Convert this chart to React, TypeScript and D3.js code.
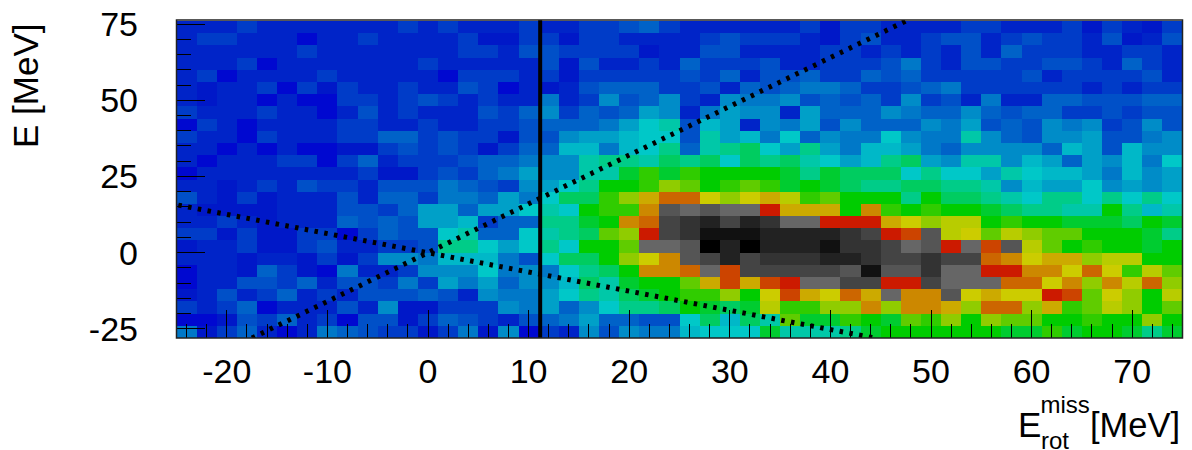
import React from "react";
import { scaleLinear, line, range } from "d3";

const width = 1192;
const height = 450;

// bins: 2 MeV wide in x, 4 MeV tall in E, rows listed top to bottom
const xEdgeStart = -25;
const yEdgeTop = 76;
const binLevels: number[][] = [
  [2,2,2,3,2,2,2,2,2,2,2,3,2,3,2,2,2,3,2,2,3,3,4,5,3,2,2,2,2,2,2,3,1,3,3,2,2,2,2,3,3,2,2,2,3,1,3,2,1,3],
  [2,3,3,2,2,2,0,2,2,3,2,2,2,2,3,1,1,3,3,1,3,3,2,2,2,2,3,4,3,3,3,2,1,3,4,2,2,3,4,4,2,3,4,3,3,2,4,1,2,4],
  [2,2,2,2,2,2,3,2,2,2,2,2,2,2,3,3,2,4,4,3,3,3,3,1,2,2,4,4,2,2,2,2,3,3,2,3,2,3,2,4,2,5,3,3,3,2,2,3,3,2],
  [2,2,2,3,0,2,2,2,2,2,2,2,3,2,2,2,2,2,4,1,4,2,2,3,2,5,3,3,3,4,2,2,3,3,3,4,6,3,2,4,4,3,3,4,4,3,2,5,3,2],
  [2,3,0,2,2,2,2,3,2,2,2,2,2,0,3,3,3,2,3,1,3,3,3,3,3,4,3,5,2,4,4,5,3,3,5,4,5,3,3,3,3,3,4,2,3,3,3,3,4,2],
  [2,1,2,2,3,0,3,1,3,2,2,3,2,2,4,3,0,2,1,2,4,5,5,5,3,3,4,2,5,4,5,6,6,5,3,3,4,5,6,3,3,3,3,3,3,2,3,2,3,3],
  [2,1,2,2,0,2,0,0,3,3,2,3,4,3,2,3,2,2,6,2,3,7,4,5,7,3,2,7,6,6,7,4,5,4,5,3,7,3,4,2,6,2,2,5,5,4,4,4,5,5],
  [3,2,2,2,3,2,2,0,2,4,2,3,2,2,2,4,3,5,7,3,5,4,5,8,7,2,6,8,7,7,2,8,5,5,5,7,6,5,5,7,5,4,5,5,3,3,4,3,4,4],
  [0,3,2,0,2,2,2,2,3,3,2,2,3,2,2,3,3,4,5,5,5,6,8,10,11,4,9,8,2,7,6,8,4,7,5,5,5,7,6,8,4,5,4,7,6,7,3,4,7,4],
  [3,2,2,0,3,2,2,2,3,3,5,5,3,4,3,3,1,4,4,7,8,8,9,10,10,4,11,8,9,6,10,5,7,6,6,10,7,6,6,11,7,5,4,7,7,8,4,4,6,7],
  [2,2,0,2,0,2,0,0,1,1,3,4,3,4,3,1,3,5,5,9,9,6,9,10,12,5,11,12,13,10,8,12,8,6,9,9,8,6,5,7,7,7,7,5,9,8,4,9,7,7],
  [2,0,2,2,2,3,3,0,3,5,2,3,3,3,4,5,5,6,7,7,11,12,12,11,13,12,13,10,13,12,13,11,10,8,9,12,13,8,7,11,11,7,9,8,5,8,7,9,6,10],
  [0,2,2,2,2,2,2,2,2,3,1,1,3,4,3,5,6,8,7,7,11,11,14,16,14,16,15,15,15,15,14,12,14,13,13,13,10,12,10,10,8,11,10,9,9,8,6,9,7,8],
  [2,2,1,2,3,2,4,3,3,2,4,4,4,6,5,4,3,7,8,10,12,15,15,16,18,17,15,16,17,16,14,15,14,13,12,12,13,13,12,12,11,7,9,8,8,10,7,8,7,8],
  [4,2,1,3,1,2,2,2,4,2,5,5,3,6,6,5,8,6,10,13,13,16,18,21,23,23,20,18,20,21,19,16,17,15,15,15,12,15,13,13,12,11,10,12,12,10,12,10,12,10],
  [2,1,1,1,1,2,2,2,4,4,3,5,8,8,5,8,8,10,11,10,15,16,16,22,27,26,27,26,26,25,21,21,21,15,22,16,15,16,15,15,14,13,12,12,11,11,15,12,9,11],
  [2,2,3,2,1,2,2,2,5,4,5,4,8,8,9,3,5,5,12,12,14,15,22,23,28,29,30,28,30,29,26,26,25,25,25,21,20,18,19,19,15,16,15,15,14,14,14,13,15,14],
  [3,3,1,3,1,1,3,3,0,3,5,4,4,10,11,5,5,10,11,12,13,17,18,25,28,29,31,31,31,30,30,30,30,29,28,25,24,27,19,20,17,19,18,17,17,15,15,15,14,12],
  [1,2,2,3,1,1,3,4,2,2,3,3,4,12,12,10,8,10,12,10,15,15,17,26,26,27,32,30,32,30,30,30,31,29,29,28,26,27,25,26,24,27,19,17,15,16,15,15,14,15],
  [2,2,2,1,2,2,1,3,1,3,7,7,6,9,9,9,6,4,10,13,13,15,18,20,22,27,28,30,28,29,29,29,30,30,29,28,28,29,28,28,23,22,20,21,21,18,19,19,15,15],
  [0,2,2,1,5,3,1,0,6,2,2,3,7,7,7,10,6,7,6,10,12,13,15,22,22,23,26,24,28,28,28,28,28,27,31,27,27,29,26,26,25,25,22,22,20,23,20,16,19,17],
  [0,2,2,4,4,3,5,2,4,4,3,6,3,8,6,8,5,7,7,9,13,11,14,15,15,17,21,24,21,24,25,26,26,28,28,25,25,28,26,26,26,23,23,20,22,18,22,19,23,18],
  [1,2,4,2,3,5,2,3,2,4,4,4,5,4,2,7,6,6,8,10,12,11,13,14,15,16,16,18,15,20,24,21,20,23,21,26,22,22,27,20,21,20,20,25,24,17,20,18,15,19],
  [3,2,3,5,0,2,2,2,4,2,7,1,1,3,3,3,7,6,8,5,7,10,12,12,13,15,14,13,14,19,16,16,18,18,22,18,22,22,21,18,23,23,18,21,16,17,19,18,15,17],
  [0,0,1,4,3,5,2,3,0,4,4,1,3,5,4,3,2,4,5,6,8,5,5,4,4,10,13,9,13,11,17,14,14,16,15,14,17,16,18,15,18,17,17,15,15,16,15,15,18,15],
  [6,1,3,5,2,0,2,6,5,4,3,3,1,3,6,1,7,0,3,2,7,4,7,6,6,9,10,10,10,14,11,11,11,12,14,15,15,15,15,15,15,14,14,16,14,15,15,14,12,14],
];

const paletteColors = [
  "#0008d0", "#0018c8", "#0024c8", "#003cc8", "#0050c8", "#0062c8", "#0078c8", "#008cc8", "#00a0c8",
  "#00b8c8", "#00c8c8", "#00c8a8", "#00cc88", "#00cc60", "#00cc30", "#00cc00", "#30cc00", "#60cc00",
  "#90cc00", "#b8cc00", "#cccc00", "#ccaa00", "#cc8800", "#cc6600", "#cc4400", "#cc1a00", "#666666",
  "#555555", "#444444", "#333333", "#222222", "#111111", "#000000",
];

const xMajorTicks = [-20, -10, 0, 10, 20, 30, 40, 50, 60, 70];
const yMajorTicks = [75, 50, 25, 0, -25];
const cutEnergy = 11.15;
const risingLine = [[-17.5, -28], [47.5, 76]];
const fallingLine = [[-25, 15.7], [44.4, -28]];

const x = scaleLinear().domain([-25, 75]).range([176.5, 1182.5]);
const y = scaleLinear().domain([-28, 76]).range([338, 21]);
const color = scaleLinear<string>().domain(paletteColors.map((_, i) => i)).range(paletteColors);

const lineGen = line<number[]>().x(d => x(d[0])).y(d => y(d[1]));

const font = "'Liberation Sans', Arial, sans-serif";

export default function App() {
  const frameTop = 20;
  const frameBottom = y.range()[0];
  const frameLeft = x.range()[0];
  const frameRight = x.range()[1];

  return (
    <svg
      width={width}
      height={height}
      style={{ position: "absolute", left: 0, top: 0, background: "#fff" }}
      fontFamily={font}
    >
      <defs>
        <clipPath id="plotArea">
          <rect x={frameLeft} y={frameTop} width={frameRight - frameLeft} height={frameBottom - frameTop} />
        </clipPath>
      </defs>

      {binLevels.map((row, r) =>
        row.map((level, c) => {
          const xa = x(xEdgeStart + c * 2);
          const xb = x(xEdgeStart + (c + 1) * 2);
          const ya = y(yEdgeTop - r * 4);
          const yb = y(yEdgeTop - (r + 1) * 4);
          return (
            <rect key={`${r}-${c}`} x={xa} y={ya} width={xb - xa} height={yb - ya} fill={color(level)} shapeRendering="crispEdges" />
          );
        })
      )}

      {/* ROOT style ticks, inside the frame */}
      {range(-24, 75, 2).map(v => {
        const major = xMajorTicks.includes(v);
        return (
          <line key={v} x1={x(v)} x2={x(v)} y1={frameBottom} y2={frameBottom - (major ? 28 : 14)} stroke="#000" strokeWidth={1} shapeRendering="crispEdges" />
        );
      })}
      {range(-25, 76, 5).map(v => {
        const major = yMajorTicks.includes(v);
        return (
          <line key={v} x1={frameLeft} x2={frameLeft + (major ? 28 : 14)} y1={y(v)} y2={y(v)} stroke="#000" strokeWidth={1} shapeRendering="crispEdges" />
        );
      })}

      <g clipPath="url(#plotArea)">
        <path d={lineGen(risingLine) ?? ""} fill="none" stroke="#000" strokeWidth={5} strokeDasharray="3.5 6.4" />
        <path d={lineGen(fallingLine) ?? ""} fill="none" stroke="#000" strokeWidth={5} strokeDasharray="3.5 6.4" strokeDashoffset={-1.85} />
      </g>
      <line x1={x(cutEnergy)} x2={x(cutEnergy)} y1={frameTop} y2={frameBottom} stroke="#000" strokeWidth={4} />

      <rect x={frameLeft} y={frameTop} width={frameRight - frameLeft} height={frameBottom - frameTop} fill="none" stroke="#222" strokeWidth={1.5} />

      {xMajorTicks.map(v => (
        <text key={v} x={x(v)} y={382.5} fontSize={34} textAnchor="middle">{v}</text>
      ))}
      {yMajorTicks.map(v => (
        <text key={v} x={138} y={y(v) + 12} fontSize={34} textAnchor="end">{v}</text>
      ))}

      <text transform="translate(38,148) rotate(-90)" fontSize={35}>E [MeV]</text>

      <text x={1018} y={437} fontSize={35}>E</text>
      <text x={1040.5} y={413} fontSize={24}>miss</text>
      <text x={1041} y={449} fontSize={24}>rot</text>
      <text x={1090} y={437} fontSize={34.5}>[MeV]</text>
    </svg>
  );
}
